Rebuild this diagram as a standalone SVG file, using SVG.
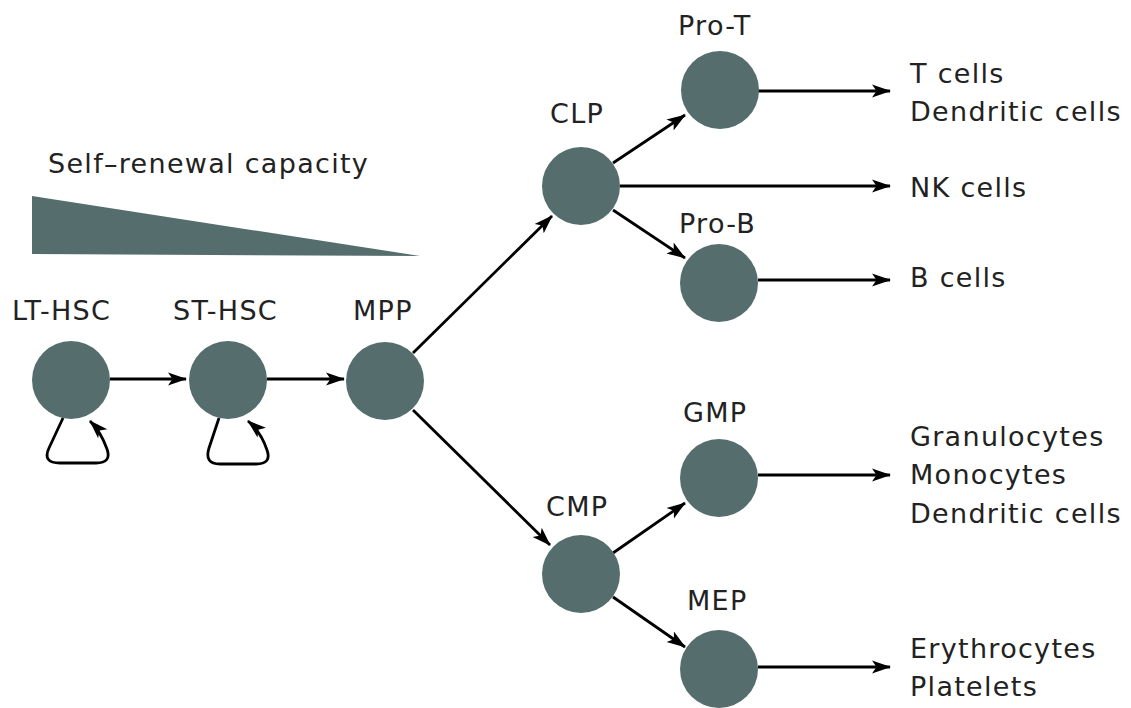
<svg xmlns="http://www.w3.org/2000/svg" width="1131" height="708" viewBox="0 0 1131 708">
<style>
.cell{fill:#566d6d}
.lbl{font-family:"DejaVu Sans",sans-serif;font-size:27px;letter-spacing:1.3px;fill:#222}
.arr{stroke:#000;stroke-width:2.8;fill:none;marker-end:url(#ah)}
</style>
<defs>
<marker id="ah" markerUnits="userSpaceOnUse" markerWidth="20" markerHeight="16" viewBox="0 0 20 16" refX="18" refY="8" orient="auto">
<path d="M0,1.5 L19,8 L0,14.5 L4.5,8 z" fill="#000"/>
</marker>
</defs>
<rect width="1131" height="708" fill="#fff"/>
<polygon points="32,196 32,254 420,256" class="cell"/>
<text class="lbl" x="48" y="173">Self–renewal capacity</text>
<g id="connectors">
<line class="arr" x1="110" y1="379" x2="186" y2="379"/>
<line class="arr" x1="267" y1="379" x2="344" y2="379"/>
<path class="arr" d="M 63 418 L 49 448 Q 42 463 60 463 L 96 463 Q 112 463 107 449 Q 101 432 90 421"/>
<path class="arr" d="M 219 418 L 209 448 Q 204 464 220 464 L 256 464 Q 272 464 267 450 Q 261 432 248 421"/>
<line class="arr" x1="413" y1="353" x2="552" y2="216"/>
<line class="arr" x1="413" y1="410" x2="550" y2="545"/>
<line class="arr" x1="613" y1="163" x2="685" y2="115"/>
<line class="arr" x1="620" y1="186" x2="890" y2="186"/>
<line class="arr" x1="613" y1="210" x2="685" y2="258"/>
<line class="arr" x1="758" y1="91" x2="890" y2="91"/>
<line class="arr" x1="758" y1="280" x2="890" y2="280"/>
<line class="arr" x1="613" y1="553" x2="685" y2="503"/>
<line class="arr" x1="613" y1="597" x2="685" y2="647"/>
<line class="arr" x1="758" y1="475" x2="890" y2="475"/>
<line class="arr" x1="758" y1="667" x2="890" y2="667"/>
</g>
<g id="lt-hsc"><circle class="cell" cx="71" cy="380" r="39"/><text class="lbl" x="12" y="320">LT-HSC</text></g>
<g id="st-hsc"><circle class="cell" cx="228" cy="380" r="39"/><text class="lbl" x="173" y="320">ST-HSC</text></g>
<g id="mpp"><circle class="cell" cx="385" cy="381" r="39"/><text class="lbl" x="353" y="320">MPP</text></g>
<g id="clp"><circle class="cell" cx="581" cy="186" r="39"/><text class="lbl" x="550" y="123">CLP</text></g>
<g id="pro-t"><circle class="cell" cx="720" cy="90" r="39"/><text class="lbl" x="678" y="35">Pro-T</text></g>
<g id="pro-b"><circle class="cell" cx="719" cy="283" r="39"/><text class="lbl" x="679" y="233">Pro-B</text></g>
<g id="cmp"><circle class="cell" cx="581" cy="574" r="39"/><text class="lbl" x="546" y="516">CMP</text></g>
<g id="gmp"><circle class="cell" cx="719" cy="478" r="39"/><text class="lbl" x="683" y="422">GMP</text></g>
<g id="mep"><circle class="cell" cx="719" cy="669" r="39"/><text class="lbl" x="687" y="610">MEP</text></g>
<g id="out-t"><text class="lbl" x="910" y="83">T cells</text><text class="lbl" x="910" y="121">Dendritic cells</text></g>
<g id="out-nk"><text class="lbl" x="910" y="197">NK cells</text></g>
<g id="out-b"><text class="lbl" x="910" y="287">B cells</text></g>
<g id="out-my"><text class="lbl" x="910" y="446">Granulocytes</text><text class="lbl" x="910" y="484">Monocytes</text><text class="lbl" x="910" y="523">Dendritic cells</text></g>
<g id="out-ery"><text class="lbl" x="910" y="658">Erythrocytes</text><text class="lbl" x="910" y="696">Platelets</text></g>
</svg>
